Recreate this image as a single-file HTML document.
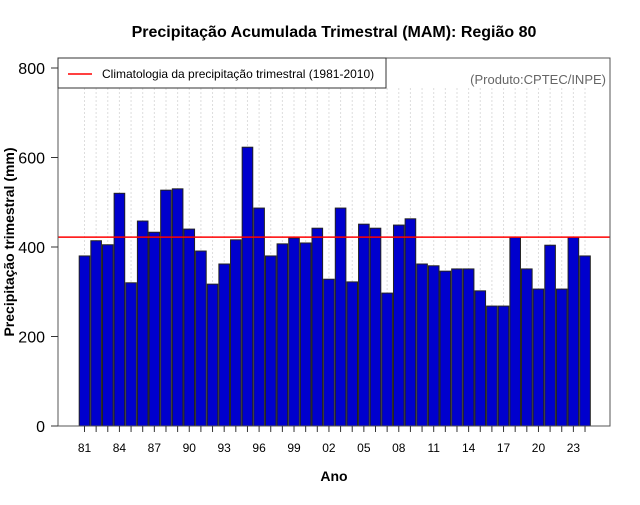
<!DOCTYPE html>
<html><head><meta charset="utf-8"><style>
body{margin:0;background:#fff;font-family:"Liberation Sans",sans-serif}
</style></head><body>
<svg id="c" width="640" height="500" xmlns="http://www.w3.org/2000/svg" font-family="Liberation Sans, sans-serif">
<text x="334" y="37" text-anchor="middle" font-size="16" font-weight="bold">Precipitação Acumulada Trimestral (MAM): Região 80</text>
<g id="grid"></g><g id="bars"></g>
<rect x="58" y="58" width="552" height="368" fill="none" stroke="#555"/>
<g id="axes"></g>
<text x="334" y="481" text-anchor="middle" font-size="14" font-weight="bold">Ano</text>
<text transform="translate(14,242) rotate(-90)" text-anchor="middle" font-size="14" font-weight="bold">Precipitação trimestral (mm)</text>
<g>
<rect x="58" y="58" width="328" height="30" fill="#fff" stroke="#333"/>
<line x1="68" y1="74" x2="92" y2="74" stroke="red" stroke-width="1.5"/>
<text x="102" y="78" font-size="12">Climatologia da precipitação trimestral (1981-2010)</text>
</g>
<text x="606" y="84" text-anchor="end" font-size="13" fill="#666">(Produto:CPTEC/INPE)</text>
</svg>
<script>
const years=[1981,1982,1983,1984,1985,1986,1987,1988,1989,1990,1991,1992,1993,1994,1995,1996,1997,1998,1999,2000,2001,2002,2003,2004,2005,2006,2007,2008,2009,2010,2011,2012,2013,2014,2015,2016,2017,2018,2019,2020,2021,2022,2023,2024];
const values=[380,414,405,520,320,458,433,527,530,440,391,317,362,416,623,487,380,407,420,409,442,328,487,322,451,442,297,449,463,362,358,346,351,351,302,268,268,422,351,306,404,306,422,380];
const climatology=422;
const yTicks=[0,200,400,600,800];
const NS="http://www.w3.org/2000/svg";
const y0=426,pxPer=89.5/200;
const Y=v=>y0-v*pxPer;
const X=i=>84.5+i*11.64;
function mk(t,a,p){const e=document.createElementNS(NS,t);for(const k in a)e.setAttribute(k,a[k]);p.appendChild(e);return e;}
const g=document.getElementById('grid'),b=document.getElementById('bars'),ax=document.getElementById('axes');
years.forEach((yr,i)=>{
 const gl=mk('line',{x1:X(i),x2:X(i),y1:88,y2:426,stroke:'#ddd','stroke-dasharray':'2,2'},g);
 
 
 const r=mk('rect',{x:X(i)-5.3,y:Y(values[i]),width:10.6,height:values[i]*pxPer,fill:'#0000cd',stroke:'#222','stroke-width':1},b);
 
 
 const tk=mk('line',{x1:X(i),x2:X(i),y1:426,y2:432,stroke:'#333'},ax);
 
 
 if(i%3===0){const t=mk('text',{x:X(i),y:452,'text-anchor':'middle','font-size':12},ax);t.textContent=String(yr%100).padStart(2,'0');
 
 }
});
const cl=mk('line',{x1:58,x2:610,y1:Y(climatology),y2:Y(climatology),stroke:'red','stroke-width':1.5},b);


yTicks.forEach(v=>{
 const l=mk('line',{x1:51,x2:58,y1:Y(v),y2:Y(v),stroke:'#333'},ax);
 
 
 const t=mk('text',{x:45,y:Y(v)+6,'text-anchor':'end','font-size':16},ax);t.textContent=v;
 
 
});
</script>
</body></html>
